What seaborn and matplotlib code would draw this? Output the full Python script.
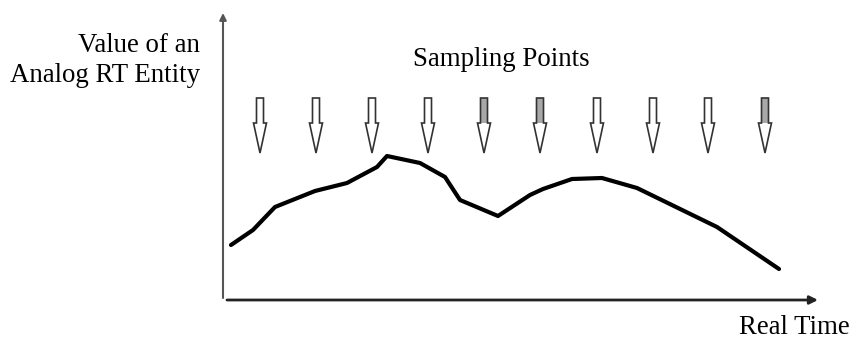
import numpy as np
import pandas as pd
import seaborn as sns
import matplotlib.pyplot as plt
from matplotlib.patches import FancyArrow, Rectangle

# values (time / value in pixel-like units from the origin)
time = [8, 30, 52, 92, 124, 154, 164, 197, 222, 237, 275, 307, 320, 349, 379, 414, 494, 556]
value = [55, 70, 93, 109, 117, 133, 144, 137, 123, 100, 84, 105, 111, 121, 122, 112, 73, 31]

sample_times = [37, 93, 149, 205, 261, 317, 374, 430, 485, 542]
arrow_top = 202
arrow_tip = 147
shaft_fill = ['white', 'white', 'white', 'white', '#a8a8a8', '#a8a8a8', 'white', 'white', 'white', '#a8a8a8']

W, H = 854, 339
sns.set_style('white')
plt.rcParams['font.family'] = ['Liberation Serif', 'DejaVu Serif']

fig = plt.figure(figsize=(W / 100, H / 100), dpi=100)
ax = fig.add_axes([223 / W, (H - 300) / H, 595 / W, 287 / H])
ax.set_xlim(0, 595)
ax.set_ylim(0, 287)
for s in ax.spines.values():
    s.set_visible(False)
ax.set_xticks([])
ax.set_yticks([])
ax.patch.set_alpha(0)

df = pd.DataFrame({'time': time, 'value': value})
sns.lineplot(data=df, x='time', y='value', ax=ax, color='black', linewidth=3,
             sort=False, solid_joinstyle='round', solid_capstyle='round')
ax.set_xlabel('')
ax.set_ylabel('')

# sampling arrows (hollow, some with a grey shaft)
head_len = 30
for t, fc in zip(sample_times, shaft_fill):
    ax.add_patch(Rectangle((t - 3.5, arrow_tip + head_len), 7, arrow_top - arrow_tip - head_len,
                           facecolor=fc, edgecolor='none', zorder=2))
    ax.add_patch(FancyArrow(t, arrow_top, 0, arrow_tip - arrow_top, width=7,
                            head_width=13, head_length=head_len, length_includes_head=True,
                            facecolor='none', edgecolor='#333333', linewidth=1.2, zorder=3))

# axes with arrow heads
ax.annotate('', xy=(1, 0), xytext=(4 / 595, 0), xycoords='axes fraction',
            arrowprops=dict(arrowstyle='-|>', color='#222222', lw=2, mutation_scale=12,
                            shrinkA=0, shrinkB=0))
ax.annotate('', xy=(0, 1), xytext=(0, 2 / 287), xycoords='axes fraction',
            arrowprops=dict(arrowstyle='-|>', color='#555555', lw=1.5, mutation_scale=10,
                            shrinkA=0, shrinkB=0))

fs = 19.4
fig.text(200 / W, 1 - 52 / H, 'Value of an', ha='right', va='baseline', fontsize=fs, color='black')
fig.text(200 / W, 1 - 82 / H, 'Analog RT Entity', ha='right', va='baseline', fontsize=fs, color='black')
fig.text(501 / W, 1 - 66 / H, 'Sampling Points', ha='center', va='baseline', fontsize=fs, color='black')
fig.text(850 / W, 1 - 334 / H, 'Real Time', ha='right', va='baseline', fontsize=fs, color='black')

fig.savefig('out.png', dpi=100)
